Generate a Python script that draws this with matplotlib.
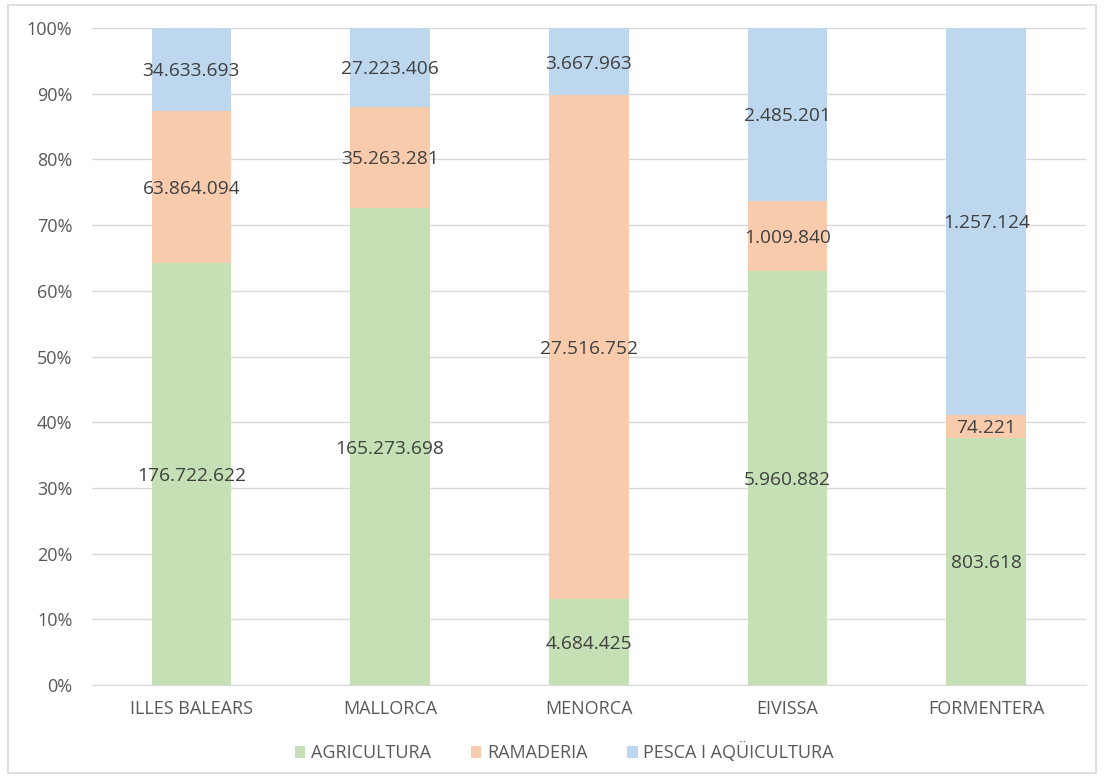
import numpy as np
import matplotlib.pyplot as plt
from matplotlib.patches import Rectangle

plt.rcParams['font.family'] = ['Open Sans', 'DejaVu Sans']

illes = ['ILLES BALEARS', 'MALLORCA', 'MENORCA', 'EIVISSA', 'FORMENTERA']
agricultura = np.array([176722622, 165273698, 4684425, 5960882, 803618])
ramaderia = np.array([63864094, 35263281, 27516752, 1009840, 74221])
pesca = np.array([34633693, 27223406, 3667963, 2485201, 1257124])
series_names = ['AGRICULTURA', 'RAMADERIA', 'PESCA I AQÜICULTURA']
colors = ['#C5E0B4', '#F8CBAD', '#BDD7EE']


def fmt(v):
    return f'{v:,}'.replace(',', '.')


def main():
    fig = plt.figure(figsize=(11.04, 7.78), dpi=100)
    ax = fig.add_axes([0.0833, 0.1195, 0.9, 0.8445])
    fig.patches.append(Rectangle((0.007, 0.007), 0.986, 0.986, transform=fig.transFigure,
                                 fill=False, edgecolor='#D9D9D9', linewidth=1.2))

    total = agricultura + ramaderia + pesca
    x = np.arange(len(illes))
    bottom = np.zeros(len(illes))
    for vals, name, c in zip([agricultura, ramaderia, pesca], series_names, colors):
        frac = vals / total
        ax.bar(x, frac, 0.4, bottom=bottom, color=c, label=name, zorder=3)
        for xi, b, f, v in zip(x, bottom, frac, vals):
            ax.text(xi, b + f / 2 - 0.003, fmt(v), ha='center', va='center', fontsize=13.8,
                    color='#404040', zorder=4)
        bottom = bottom + frac

    ax.set_xlim(-0.5, len(illes) - 0.5)
    ax.set_ylim(0, 1)
    ax.set_yticks(np.arange(0, 1.01, 0.1))
    ax.set_yticklabels([f'{int(round(t * 100))}%' for t in np.arange(0, 1.01, 0.1)])
    ax.set_xticks(x)
    ax.set_xticklabels(illes)
    ax.tick_params(axis='both', length=0, labelsize=13, colors='#595959')
    ax.tick_params(axis='x', pad=11)
    ax.tick_params(axis='y', pad=14)
    ax.yaxis.grid(True, color='#D9D9D9', linewidth=1, zorder=0)
    for s in ['top', 'right', 'left']:
        ax.spines[s].set_visible(False)
    ax.spines['bottom'].set_color('#D9D9D9')
    ax.spines['bottom'].set_zorder(5)

    leg = fig.legend(loc='center', bbox_to_anchor=(0.511, 0.033), ncol=3, frameon=False,
                     fontsize=13, handlelength=0.6, handleheight=0.6, handletextpad=0.3,
                     columnspacing=2.2)
    for t in leg.get_texts():
        t.set_color('#595959')

    fig.savefig('out.png', dpi=100)


if __name__ == "__main__":
    main()
